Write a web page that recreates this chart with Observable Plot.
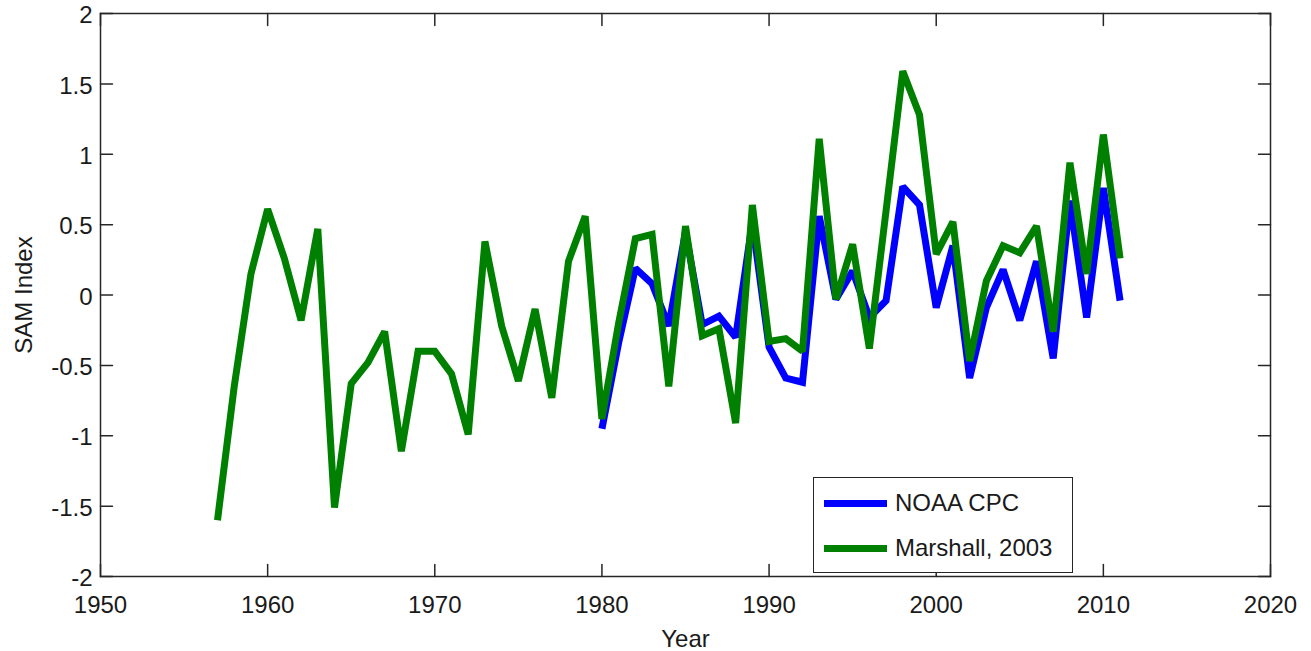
<!DOCTYPE html>
<html>
<head>
<meta charset="utf-8">
<script src="https://cdn.jsdelivr.net/npm/d3@7"></script>
<script src="https://cdn.jsdelivr.net/npm/@observablehq/plot@0.6"></script>
<style>
  body { margin: 0; background: #fff; font-family: "Liberation Sans", Arial, sans-serif; }
  #chart { position: relative; width: 1311px; height: 651px; }
  #chart svg { display: block; }
  .legend {
    position: absolute; left: 813px; top: 477px; width: 260px; height: 96px;
    box-sizing: border-box; border: 1.5px solid #262626; background: #fff;
    font-size: 24px; color: #1a1a1a;
  }
  .legend .row { position: absolute; left: 10px; height: 30px; display: flex; align-items: center; }
  .legend .swatch { width: 63px; height: 7px; margin-right: 8px; }
</style>
</head>
<body>
<div id="chart"></div>
<script>
// Southern Annular Mode index, annual means
const marshallStart = 1957;
const marshallValues = [
  -1.60, -0.65, 0.15, 0.61, 0.26, -0.18, 0.47, -1.51, -0.63, -0.48,
  -0.26, -1.11, -0.40, -0.40, -0.56, -0.99, 0.38, -0.22, -0.61, -0.10,
  -0.73, 0.24, 0.56, -0.88, -0.20, 0.40, 0.43, -0.65, 0.49, -0.29,
  -0.24, -0.91, 0.64, -0.33, -0.31, -0.40, 1.11, -0.03, 0.36, -0.38,
  0.60, 1.59, 1.28, 0.29, 0.52, -0.47, 0.10, 0.35, 0.30, 0.49,
  -0.26, 0.94, 0.15, 1.14, 0.26
];
const noaaStart = 1980;
const noaaValues = [
  -0.95, -0.34, 0.19, 0.08, -0.22, 0.45, -0.21, -0.15, -0.30, 0.52,
  -0.37, -0.59, -0.62, 0.56, -0.03, 0.17, -0.16, -0.04, 0.77, 0.64,
  -0.09, 0.35, -0.59, -0.09, 0.18, -0.18, 0.24, -0.45, 0.67, -0.16,
  0.76, -0.04
];
const seriesNames = ["NOAA CPC", "Marshall, 2003"];
const seriesColors = ["#0000ff", "#008000"];
const xTicks = [1950, 1960, 1970, 1980, 1990, 2000, 2010, 2020];
const yTicks = [-2, -1.5, -1, -0.5, 0, 0.5, 1, 1.5, 2];

const toRows = (start, values) => values.map((v, i) => ({year: start + i, value: v}));
const marshall = toRows(marshallStart, marshallValues);
const noaa = toRows(noaaStart, noaaValues);

const lineStyle = {x: "year", y: "value", strokeWidth: 7, strokeLinejoin: "miter", strokeMiterlimit: 2, strokeLinecap: "butt"};

// a plain straight tick, drawn from the frame edge inwards
const tickShape = {draw(context, l) { context.moveTo(0, 0); context.lineTo(0, -l); }};
const tickStyle = {length: 12, anchor: "start", shape: tickShape, stroke: "#262626", strokeWidth: 1.5};

const chart = Plot.plot({
  width: 1311,
  height: 651,
  marginLeft: 100,
  marginRight: 41,
  marginTop: 13,
  marginBottom: 75,
  x: {domain: [1950, 2020]},
  y: {domain: [-2, 2]},
  style: {fontFamily: "'Liberation Sans', Arial, sans-serif", fontSize: "24px", color: "#1a1a1a", background: "#fff"},
  marks: [
    Plot.line(noaa, {...lineStyle, stroke: seriesColors[0]}),
    Plot.line(marshall, {...lineStyle, stroke: seriesColors[1]}),
    Plot.frame({stroke: "#262626", strokeWidth: 1.5}),
    // inward tick marks on all four sides
    Plot.vector(xTicks, {...tickStyle, x: d => d, frameAnchor: "bottom", rotate: 0}),
    Plot.vector(xTicks, {...tickStyle, x: d => d, frameAnchor: "top", rotate: 180}),
    Plot.vector(yTicks, {...tickStyle, y: d => d, frameAnchor: "left", rotate: 90}),
    Plot.vector(yTicks, {...tickStyle, y: d => d, frameAnchor: "right", rotate: -90}),
    // tick labels and axis titles
    Plot.axisX(xTicks, {anchor: "bottom", tickSize: 0, tickPadding: 19, tickFormat: d => String(d),
      label: "Year", labelAnchor: "center", labelArrow: "none", labelOffset: 70, fill: "#1a1a1a"}),
    Plot.axisY(yTicks, {anchor: "left", tickSize: 0, tickPadding: 8, tickFormat: d => String(d), dy: 2,
      label: "SAM Index", labelAnchor: "center", labelArrow: "none", labelOffset: 86, fill: "#1a1a1a"})
  ]
});
document.getElementById("chart").appendChild(chart);

// legend box inside the axes
const legend = document.createElement("div");
legend.className = "legend";
seriesNames.forEach((name, i) => {
  const row = document.createElement("div");
  row.className = "row";
  row.style.top = (10 + i * 45) + "px";
  const sw = document.createElement("div");
  sw.className = "swatch";
  sw.style.background = seriesColors[i];
  const label = document.createElement("span");
  label.textContent = name;
  row.appendChild(sw);
  row.appendChild(label);
  legend.appendChild(row);
});
document.getElementById("chart").appendChild(legend);
</script>
</body>
</html>
